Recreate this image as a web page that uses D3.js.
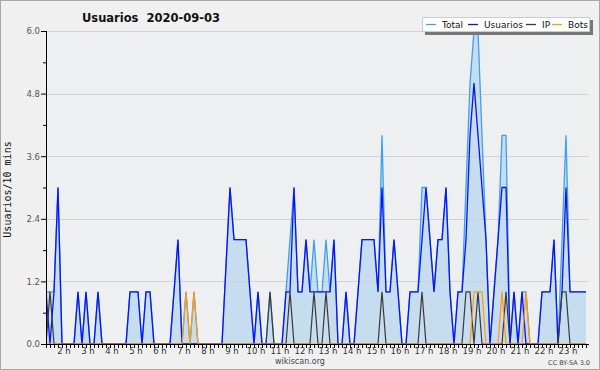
<!DOCTYPE html>
<html>
<head>
<meta charset="utf-8">
<script src="https://cdn.jsdelivr.net/npm/d3@7"></script>
<style>
  body { margin: 0; background: #f0f0f0; }
  svg { display: block; font-family: "DejaVu Sans", Verdana, sans-serif; }
</style>
</head>
<body>
<div id="chart"></div>
<script>
//Chart: data (one value per 10 minutes)
var startMinute = 75;
var usuarios = [1,0,1,3,0,0,0,0,1,0, 1,0,0,1,0,0,0,0,0,0,
                0,1,1,1,0,1,1,0,0,0, 0,0,1,2,0,0,0,0,0,0,
                0,0,0,0,0,1.5,3,2,2,2, 2,1,0,1,0,0,0,0,0,0,
                1,1,3,1,1,2,1,1,1,1, 1,1,2,0,0,1,0,0,1,2,
                2,2,2,1,3,1,1,2,1,0, 0,1,1,1,2,3,2,1,2,2,
                3,1,0,1,1,2,4,5,4,3, 2,0,1,2,3,3,0,1,0,1,
                0,0,0,0,1,1,1,2,0,1, 3,1,1,1,1,1];
var ip =       [0,1,0,0,0,0,0,0,0,0, 0,0,0,0,0,0,0,0,0,0,
                0,0,0,0,0,0,0,0,0,0, 0,0,0,0,0,0,0,0,0,0,
                0,0,0,0,0,0,0,0,0,0, 0,0,0,0,0,0,1,0,0,0,
                0,1,0,0,0,0,0,1,0,0, 1,0,0,0,0,0,0,0,0,0,
                0,0,0,0,1,0,0,0,0,0, 0,0,0,0,1,0,0,0,0,0,
                0,0,0,0,0,1,1,0,1,0, 0,0,0,0,0,1,0,0,0,0,
                0,0,0,0,0,0,0,0,0,1, 1,0,0,0,0,0];
var bots =     [0,0,0,0,0,0,0,0,0,0, 0,0,0,0,0,0,0,0,0,0,
                0,0,0,0,0,0,0,0,0,0, 0,0,0,0,0,1,0,1,0,0,
                0,0,0,0,0,0,0,0,0,0, 0,0,0,0,0,0,0,0,0,0,
                0,0,0,0,0,0,0,0,0,0, 0,0,0,0,0,0,0,0,0,0,
                0,0,0,0,0,0,0,0,0,0, 0,0,0,0,0,0,0,0,0,0,
                0,0,0,0,0,0,0,1,1,1, 0,0,0,0,1,0,0,0,0,0,
                1,0,0,0,0,0,0,0,0,0, 0,0,0,0,0,0];
var hours = [2,3,4,5,6,7,8,9,10,11,12,13,14,15,16,17,18,19,20,21,22,23];
var yTicks = [0, 1.2, 2.4, 3.6, 4.8, 6.0];
var seriesNames = ["Total", "Usuarios", "IP", "Bots"];

//Chart: colors
var colorTotal = "#3ea0f0";
var colorFill = "#c6dcef";
var colorUsers = "#0a14f5";
var colorIP = "#3a3a3a";
var colorBots = "#ff9a10";
var colorGrid = "#cfcfcf";
var colorText = "#333";

var W = 600, H = 370;
var pLeft = 46, pRight = 589, pTop = 31, pBottom = 344;

var data = usuarios.map(function (u, i) {
    return { t: startMinute + 10 * i, u: u, ip: ip[i], b: bots[i], total: u + ip[i] + bots[i] };
});

var endMinute = startMinute + (pRight - pLeft) / 0.4;
var x = d3.scaleLinear().domain([startMinute, endMinute]).range([pLeft, pRight]);
var y = d3.scaleLinear().domain([0, 6]).range([pBottom, pTop]);

var svg = d3.select("#chart").append("svg").attr("width", W).attr("height", H);

svg.append("rect").attr("x", 0.5).attr("y", 0.5).attr("width", W - 1).attr("height", H - 1)
    .attr("fill", "#f0f0f0").attr("stroke", "#a8a8a8");
svg.append("rect").attr("x", pLeft).attr("y", pTop).attr("width", pRight - pLeft).attr("height", pBottom - pTop)
    .attr("fill", "#eeeff1");

svg.append("clipPath").attr("id", "clip").append("rect")
    .attr("x", pLeft).attr("y", pTop - 2).attr("width", pRight - pLeft).attr("height", pBottom - pTop + 4);

//Total area
var plot = svg.append("g").attr("clip-path", "url(#clip)");
plot.append("path").datum(data)
    .attr("fill", colorFill)
    .attr("d", d3.area().x(function (d) { return x(d.t); }).y0(y(0)).y1(function (d) { return y(d.total); }));

//Grid
svg.append("g").selectAll("line").data(yTicks.slice(1)).join("line")
    .attr("x1", pLeft).attr("x2", pRight)
    .attr("y1", function (d) { return Math.round(y(d)) + 0.5; })
    .attr("y2", function (d) { return Math.round(y(d)) + 0.5; })
    .attr("stroke", colorGrid).attr("stroke-width", 1).attr("opacity", 0.9);

//Lines, drawn in legend order
function lineOf(key) {
    return d3.line().x(function (d) { return x(d.t); }).y(function (d) { return y(d[key]); });
}
var lines = svg.append("g").attr("clip-path", "url(#clip)");
lines.append("path").datum(data).attr("fill", "none").attr("stroke", colorTotal).attr("stroke-width", 1.3).attr("d", lineOf("total"));
lines.append("path").datum(data).attr("fill", "none").attr("stroke", colorUsers).attr("stroke-width", 1.3).attr("d", lineOf("u"));
lines.append("path").datum(data).attr("fill", "none").attr("stroke", colorIP).attr("stroke-width", 1.2).attr("d", lineOf("ip"));
lines.append("path").datum(data).attr("fill", "none").attr("stroke", colorBots).attr("stroke-width", 1.2).attr("d", lineOf("b"));

//X axis: a tick every 10 minutes, labels on the hours
var xTicks = d3.range(startMinute, endMinute + 1, 10);
var xAxis = svg.append("g").attr("transform", "translate(0," + pBottom + ")")
    .call(d3.axisBottom(x).tickValues(xTicks).tickSize(4).tickFormat(""));
xAxis.select(".domain").attr("stroke", "#000").attr("d", "M" + pLeft + ",0.5H" + pRight);
xAxis.selectAll(".tick line").attr("stroke", "#000");
svg.append("g").selectAll("text").data(hours).join("text")
    .attr("x", function (h) { return x(h * 60); })
    .attr("y", pBottom + 10)
    .attr("text-anchor", "middle")
    .attr("font-size", 8.5)
    .attr("fill", colorText)
    .text(function (h) { return h + " h"; });

//Y axis
var yAxis = svg.append("g").attr("transform", "translate(" + pLeft + ",0)")
    .call(d3.axisLeft(y).tickValues(yTicks).tickSize(5).tickFormat(d3.format(".1f")));
yAxis.select(".domain").attr("stroke", "#000").attr("d", "M0.5," + pTop + "V" + pBottom);
yAxis.selectAll(".tick line").attr("stroke", "#000");
yAxis.selectAll(".tick text").attr("font-size", 8.5).attr("fill", "#555")
    .attr("font-family", "DejaVu Sans, sans-serif").attr("x", -6).attr("dy", "0.35em");
svg.append("g").attr("transform", "translate(" + pLeft + ",0)")
    .call(d3.axisLeft(y).tickValues([0.6, 1.8, 3.0, 4.2, 5.4]).tickSize(3).tickFormat(""))
    .call(function (g) { g.select(".domain").remove(); g.selectAll("line").attr("stroke", "#000"); });

svg.append("text")
    .attr("transform", "translate(11," + ((pTop + pBottom) / 2 + 2) + ") rotate(-90)")
    .attr("text-anchor", "middle")
    .attr("font-family", "DejaVu Sans Mono, monospace")
    .attr("font-size", 10)
    .attr("fill", "#111")
    .text("Usuarios/10 mins");

//Title
svg.append("text").attr("x", 151).attr("y", 22).attr("text-anchor", "middle")
    .attr("font-weight", "bold").attr("font-size", 11.5).attr("fill", "#111")
    .attr("xml:space", "preserve")
    .text("Usuarios  2020-09-03");

//Legend
var lg = svg.append("g").attr("transform", "translate(422,17)");
lg.append("rect").attr("x", 3).attr("y", 3).attr("width", 168).attr("height", 15).attr("fill", "#777");
lg.append("rect").attr("x", 0.5).attr("y", 0.5).attr("width", 167).attr("height", 14).attr("fill", "#fff").attr("stroke", "#ccc");
var legendColors = [colorTotal, colorUsers, colorIP, colorBots];
var legendX = [4, 46, 104, 130];
var legendTextX = [20, 62, 120, 146];
seriesNames.forEach(function (name, k) {
    lg.append("line").attr("x1", legendX[k]).attr("x2", legendX[k] + 10)
        .attr("y1", 7.5).attr("y2", 7.5).attr("stroke", legendColors[k]).attr("stroke-width", 1.3);
    lg.append("text").attr("x", legendTextX[k]).attr("y", 11.3).attr("font-size", 9)
        .attr("fill", "#111").text(name);
});

//Footer
svg.append("text").attr("x", 300).attr("y", 364).attr("text-anchor", "middle")
    .attr("font-size", 8).attr("fill", "#444").text("wikiscan.org");
svg.append("text").attr("x", 590).attr("y", 365).attr("text-anchor", "end")
    .attr("font-size", 6.5).attr("fill", "#444").text("CC BY-SA 3.0");
</script>
</body>
</html>
